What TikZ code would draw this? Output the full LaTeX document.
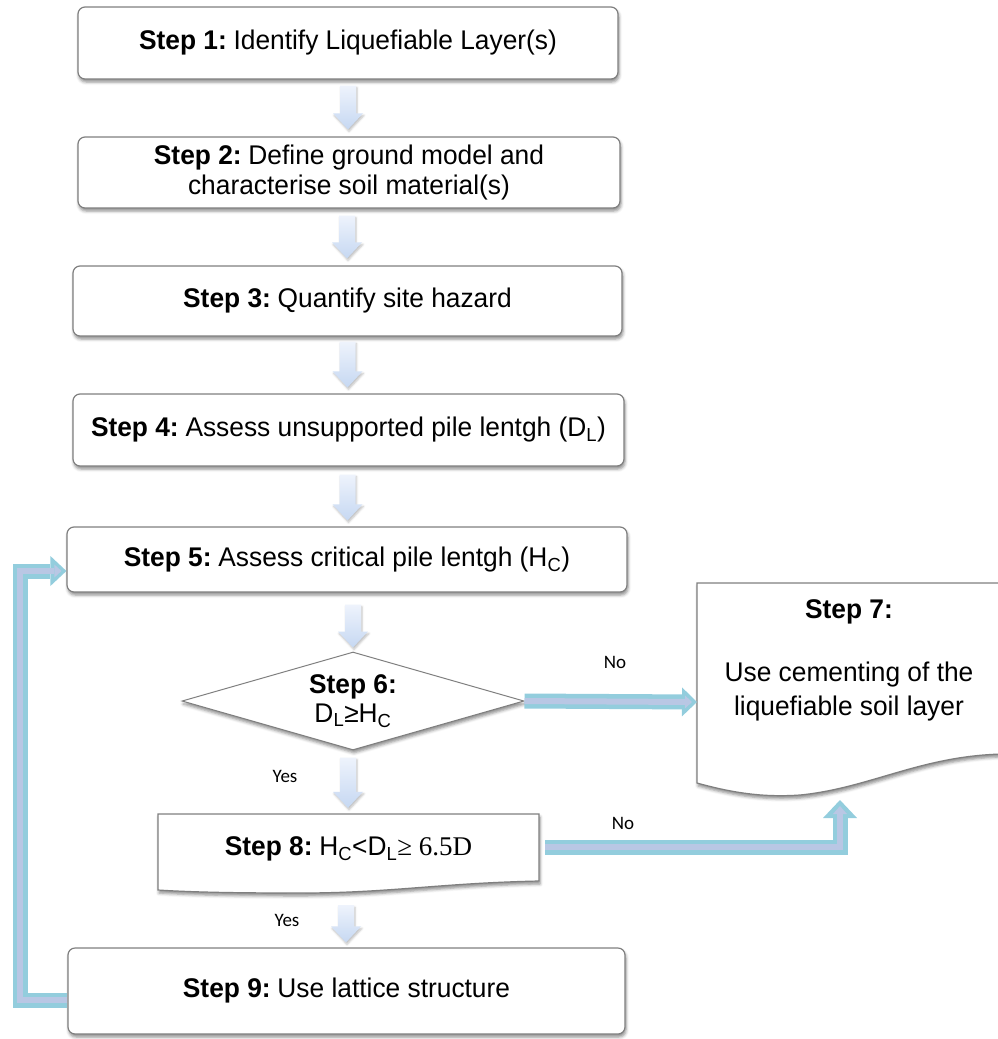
\documentclass[tikz,border=0pt]{standalone}
\usepackage{fontspec}
\setmainfont{Liberation Sans}[FakeStretch=0.975]
\newfontfamily\calfont{Carlito}
\newfontfamily\serfont{Liberation Serif}
\usetikzlibrary{shapes.geometric,shadows,shadows.blur,calc,arrows.meta}
\definecolor{boxline}{HTML}{7F7F7F}
\definecolor{arrtop}{HTML}{EEF3FC}
\definecolor{arrbot}{HTML}{C6D8F2}
\definecolor{bluout}{HTML}{93CDDD}
\definecolor{bluin}{HTML}{B9C7E4}
\newcommand\stp[1]{\textbf{Step #1:}\hspace{0.25em}}
\tikzset{
  bshadow/.style={blur shadow={shadow xshift=1pt, shadow yshift=-3pt, shadow blur radius=3pt, shadow opacity=45}},
  stepbox/.style={draw=boxline, line width=1.2pt, rounded corners=7pt, fill=white,
    font=\fontsize{27}{30}\selectfont, align=center, inner sep=0pt, bshadow},
  txt/.style={font=\fontsize{27}{30}\selectfont, align=center, inner sep=0pt},
  outline/.style={draw=boxline, line width=1.2pt, fill=white, bshadow},
  lbl/.style={font=\calfont\fontsize{19}{22}\selectfont, inner sep=0pt},
  dnshade/.style={top color=arrtop, bottom color=arrbot,
    blur shadow={shadow xshift=1pt, shadow yshift=-2pt, shadow blur radius=2pt, shadow opacity=25}},
  bigout/.style={line width=15pt, color=bluout},
  bigin/.style={line width=6pt, color=bluin},
}
\newcommand\dnarrow[2]{%
  \path[dnshade] let \p1=#1, \p2=#2 in
    (\x1-8pt,\y1) -- (\x1+8pt,\y1) -- (\x1+8pt,\y2+16pt) -- (\x1+15pt,\y2+16pt)
    -- (\x1,\y2) -- (\x1-15pt,\y2+16pt) -- (\x1-8pt,\y2+16pt) -- cycle;}
\begin{document}
\begin{tikzpicture}[x=1pt,y=-1pt]
\useasboundingbox (0,0) rectangle (997,1039);

% boxes
\node[stepbox, minimum width=540pt, minimum height=72pt] (s1) at (348,43)
  {\stp{1}Identify Liquefiable Layer(s)};
\node[stepbox, minimum width=542pt, minimum height=71pt] (s2) at (349,172.5)
  {\stp{2}Define ground model and\\characterise soil material(s)};
\node[stepbox, minimum width=549pt, minimum height=70pt] (s3) at (347.5,301)
  {\stp{3}Quantify site hazard};
\node[stepbox, minimum width=551pt, minimum height=72pt] (s4) at (348.5,430)
  {\stp{4}Assess unsupported pile lentgh (D\textsubscript{L})};
\node[stepbox, minimum width=560pt, minimum height=65pt] (s5) at (347,559.5)
  {\stp{5}Assess critical pile lentgh (H\textsubscript{C})};
\node[diamond, draw=boxline, line width=1pt, fill=white, aspect=3.5, inner sep=0pt,
  minimum width=342pt, minimum height=98pt, bshadow,
  font=\fontsize{27}{29}\selectfont, align=center] (s6) at (353,701)
  {\textbf{Step 6:}\\D\textsubscript{L}≥H\textsubscript{C}};
\node[stepbox, minimum width=557pt, minimum height=86pt] (s9) at (346.5,991)
  {\stp{9}Use lattice structure};

% step 8 (wavy bottom)
\draw[outline] (158,814) -- (539,814) -- (539,881)
  .. controls (440,883) and (390,893) .. (300,893)
  .. controls (230,893) and (190,892) .. (158,890) -- cycle;
\node[txt, minimum width=381pt, minimum height=70pt] (s8) at (348.5,849)
  {\stp{8}H\textsubscript{C}<D\textsubscript{L}{\serfont≥ 6.5D}};

% step 7 (document shape)
\draw[outline] (1002,583) -- (697,583) -- (697,783)
  .. controls (740,795) and (770,797) .. (800,795)
  .. controls (870,788) and (920,756) .. (1002,754);
\node[txt, font=\fontsize{27}{34}\selectfont, anchor=north] (s7) at (849,599)
  {\textbf{Step 7:}\\[29pt]Use cementing of the\\liquefiable soil layer};
\coordinate (s7w) at (697,702);
\coordinate (s7b) at (840,800);
\coordinate (lx) at (20,0);

% light down arrows
\dnarrow{($(s1.south)+(0,6)$)}{($(s2.north)+(0,-7)$)}
\dnarrow{($(s2.south)+(-2,7)$)}{($(s3.north)+(0,-7)$)}
\dnarrow{($(s3.south)+(0,5)$)}{($(s4.north)+(0,-6)$)}
\dnarrow{($(s4.south)+(-1,8)$)}{($(s5.north)+(0,-6)$)}
\dnarrow{($(s5.south)+(6,12)$)}{($(s6.north)+(0,-4)$)}
\dnarrow{($(s6.south)+(-5,7)$)}{($(s8.north)+(0,-6)$)}
\dnarrow{($(s8.south)+(-2.5,21)$)}{($(s9.north)+(0,-5)$)}

% No arrows
\draw[bigout, -{Triangle[width=29pt,length=15pt,line width=0pt]}] (s6.east) -- (s7w);
\draw[bigin, -{Triangle[width=13pt,length=7pt,line width=0pt]}] (s6.east) -- ($(s7w)+(-5,0)$);
\draw[bigout, -{Triangle[width=34pt,length=18pt,line width=0pt]}]
  ($(s8.east)+(6,-2)$) -| (s7b);
\draw[bigin, -{Triangle[width=14pt,length=8pt,line width=0pt]}]
  ($(s8.east)+(6,-2)$) -| ($(s7b)+(0,6)$);

% loop back arrow
\draw[bigout, -{Triangle[width=30pt,length=16pt,line width=0pt]}]
  ($(s9.west)+(0,9)$) -- (lx |- 0,1000) -- (lx |- 0,571) [rounded corners=14pt] -- ($(s5.west)+(0,11.5)$);
\draw[bigin, -{Triangle[width=13pt,length=7pt,line width=0pt]}]
  ($(s9.west)+(0,9)$) -- (lx |- 0,1000) -- (lx |- 0,571) [rounded corners=14pt] -- ($(s5.west)+(-5,11.5)$);

% labels
\node[lbl] (no1) at (615,662) {No};
\node[lbl] (no2) at (623,823) {No};
\node[lbl] (yes1) at (285,776) {Yes};
\node[lbl] (yes2) at (287,920) {Yes};
\end{tikzpicture}
\end{document}
